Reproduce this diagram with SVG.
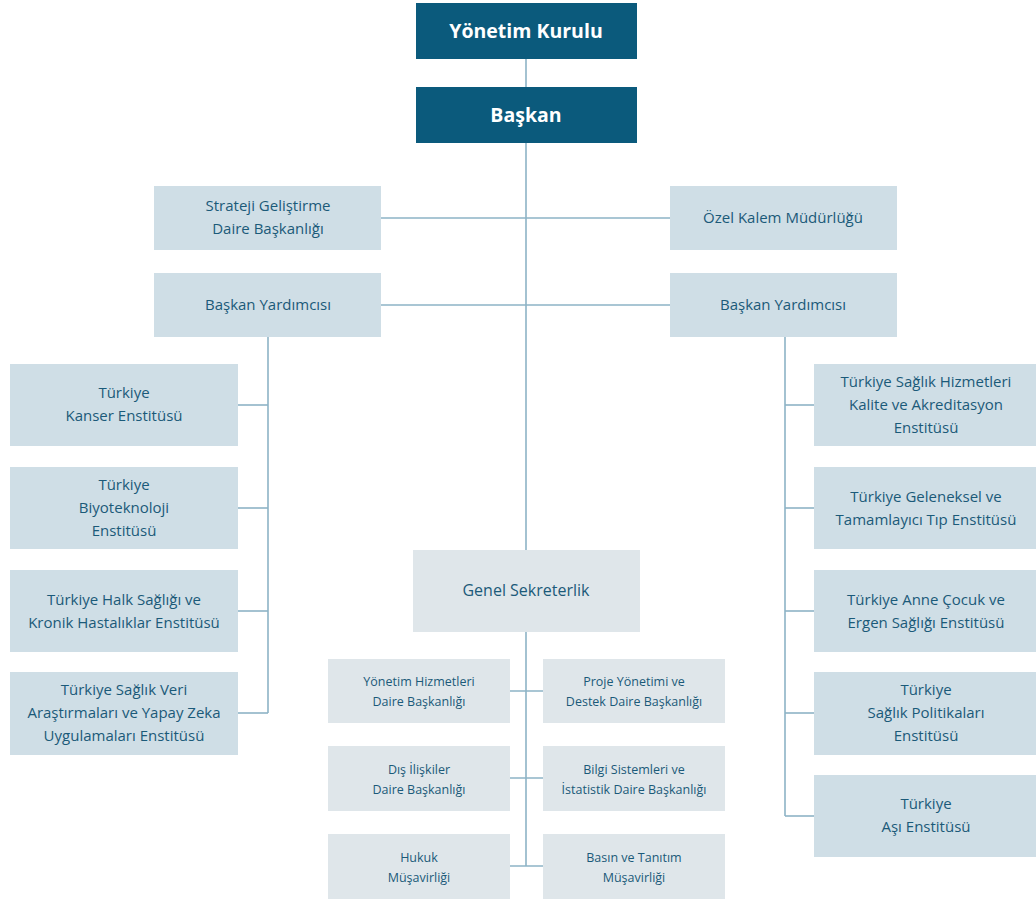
<svg xmlns="http://www.w3.org/2000/svg" width="1036" height="902" viewBox="0 0 1036 902">
<style>
.dark{fill:#0b5a7c}
.light{fill:#cfdee6}
.pale{fill:#dfe6ea}
.conn{stroke:#8db3c6;stroke-width:1.6;fill:none}
text{font-family:"Open Sans","Noto Sans","Liberation Sans",sans-serif;text-anchor:middle}
.t1{font-size:19.5px;font-weight:700;fill:#ffffff}
.t2{font-size:15px;fill:#1b5a79}
.t3{font-size:12.5px;fill:#1b5a79}
</style>
<rect width="1036" height="902" fill="#ffffff"/>
<g id="connectors">
<line class="conn" x1="526" y1="59" x2="526" y2="87"/>
<line class="conn" x1="526" y1="143" x2="526" y2="550"/>
<line class="conn" x1="381" y1="218" x2="670" y2="218"/>
<line class="conn" x1="381" y1="305" x2="670" y2="305"/>
<line class="conn" x1="268" y1="336" x2="268" y2="713"/>
<line class="conn" x1="238" y1="405" x2="268" y2="405"/>
<line class="conn" x1="238" y1="508" x2="268" y2="508"/>
<line class="conn" x1="238" y1="611" x2="268" y2="611"/>
<line class="conn" x1="238" y1="713" x2="268" y2="713"/>
<line class="conn" x1="785" y1="336" x2="785" y2="816"/>
<line class="conn" x1="785" y1="405" x2="814" y2="405"/>
<line class="conn" x1="785" y1="508" x2="814" y2="508"/>
<line class="conn" x1="785" y1="611" x2="814" y2="611"/>
<line class="conn" x1="785" y1="713" x2="814" y2="713"/>
<line class="conn" x1="785" y1="816" x2="814" y2="816"/>
<line class="conn" x1="526" y1="632" x2="526" y2="866"/>
<line class="conn" x1="510" y1="691" x2="543" y2="691"/>
<line class="conn" x1="510" y1="778" x2="543" y2="778"/>
<line class="conn" x1="510" y1="866" x2="543" y2="866"/>
</g>
<g id="yonetim-kurulu"><rect class="dark" x="416" y="3" width="221" height="56"/><text class="t1" x="526" y="38">Yönetim Kurulu</text></g>
<g id="baskan"><rect class="dark" x="416" y="87" width="221" height="56"/><text class="t1" x="526" y="122">Başkan</text></g>
<g id="strateji"><rect class="light" x="154" y="186" width="227" height="64"/><text class="t2" x="268" y="211">Strateji Geliştirme</text><text class="t2" x="268" y="234">Daire Başkanlığı</text></g>
<g id="ozel-kalem"><rect class="light" x="670" y="186" width="227" height="64"/><text class="t2" x="783" y="223">Özel Kalem Müdürlüğü</text></g>
<g id="baskan-yrd-sol"><rect class="light" x="154" y="273" width="227" height="64"/><text class="t2" x="268" y="310">Başkan Yardımcısı</text></g>
<g id="baskan-yrd-sag"><rect class="light" x="670" y="273" width="227" height="64"/><text class="t2" x="783" y="310">Başkan Yardımcısı</text></g>
<g id="kanser"><rect class="light" x="10" y="364" width="228" height="82"/><text class="t2" x="124" y="398">Türkiye</text><text class="t2" x="124" y="421">Kanser Enstitüsü</text></g>
<g id="biyoteknoloji"><rect class="light" x="10" y="467" width="228" height="82"/><text class="t2" x="124" y="490">Türkiye</text><text class="t2" x="124" y="513">Biyoteknoloji</text><text class="t2" x="124" y="536">Enstitüsü</text></g>
<g id="halk-sagligi"><rect class="light" x="10" y="570" width="228" height="82"/><text class="t2" x="124" y="605">Türkiye Halk Sağlığı ve</text><text class="t2" x="124" y="628">Kronik Hastalıklar Enstitüsü</text></g>
<g id="veri-yapay-zeka"><rect class="light" x="10" y="672" width="228" height="83"/><text class="t2" x="124" y="695">Türkiye Sağlık Veri</text><text class="t2" x="124" y="718">Araştırmaları ve Yapay Zeka</text><text class="t2" x="124" y="741">Uygulamaları Enstitüsü</text></g>
<g id="kalite"><rect class="light" x="814" y="364" width="222" height="82"/><text class="t2" x="926" y="387">Türkiye Sağlık Hizmetleri</text><text class="t2" x="926" y="410">Kalite ve Akreditasyon</text><text class="t2" x="926" y="433">Enstitüsü</text></g>
<g id="geleneksel"><rect class="light" x="814" y="467" width="222" height="82"/><text class="t2" x="926" y="502">Türkiye Geleneksel ve</text><text class="t2" x="926" y="525">Tamamlayıcı Tıp Enstitüsü</text></g>
<g id="anne-cocuk"><rect class="light" x="814" y="570" width="222" height="82"/><text class="t2" x="926" y="605">Türkiye Anne Çocuk ve</text><text class="t2" x="926" y="628">Ergen Sağlığı Enstitüsü</text></g>
<g id="politikalar"><rect class="light" x="814" y="672" width="222" height="83"/><text class="t2" x="926" y="695">Türkiye</text><text class="t2" x="926" y="718">Sağlık Politikaları</text><text class="t2" x="926" y="741">Enstitüsü</text></g>
<g id="asi"><rect class="light" x="814" y="775" width="222" height="82"/><text class="t2" x="926" y="809">Türkiye</text><text class="t2" x="926" y="832">Aşı Enstitüsü</text></g>
<g id="genel-sekreterlik"><rect class="pale" x="413" y="550" width="227" height="82"/><text class="t2" x="526" y="596" style="font-size:16px">Genel Sekreterlik</text></g>
<g id="yonetim-hizmetleri"><rect class="pale" x="328" y="659" width="182" height="64"/><text class="t3" x="419" y="686">Yönetim Hizmetleri</text><text class="t3" x="419" y="706">Daire Başkanlığı</text></g>
<g id="proje-yonetimi"><rect class="pale" x="543" y="659" width="182" height="64"/><text class="t3" x="634" y="686">Proje Yönetimi ve</text><text class="t3" x="634" y="706">Destek Daire Başkanlığı</text></g>
<g id="dis-iliskiler"><rect class="pale" x="328" y="746" width="182" height="65"/><text class="t3" x="419" y="774">Dış İlişkiler</text><text class="t3" x="419" y="794">Daire Başkanlığı</text></g>
<g id="bilgi-sistemleri"><rect class="pale" x="543" y="746" width="182" height="65"/><text class="t3" x="634" y="774">Bilgi Sistemleri ve</text><text class="t3" x="634" y="794">İstatistik Daire Başkanlığı</text></g>
<g id="hukuk"><rect class="pale" x="328" y="834" width="182" height="65"/><text class="t3" x="419" y="862">Hukuk</text><text class="t3" x="419" y="882">Müşavirliği</text></g>
<g id="basin"><rect class="pale" x="543" y="834" width="182" height="65"/><text class="t3" x="634" y="862">Basın ve Tanıtım</text><text class="t3" x="634" y="882">Müşavirliği</text></g>
</svg>
